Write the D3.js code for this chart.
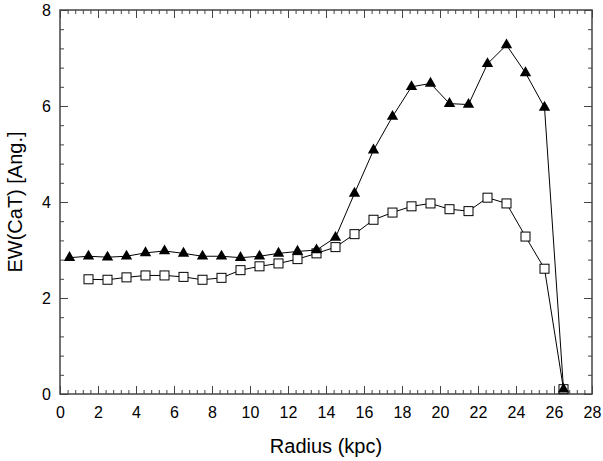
<!DOCTYPE html>
<html>
<head>
<meta charset="utf-8">
<script src="https://cdn.jsdelivr.net/npm/d3@7"></script>
<style>
  body { margin: 0; background: #fff; }
  svg { font-family: "Liberation Sans", Arial, sans-serif; }
</style>
</head>
<body>
<svg id="chart" width="603" height="461"></svg>
<script>
// radius (kpc) of each bin
const radius = [0.5, 1.5, 2.5, 3.5, 4.5, 5.5, 6.5, 7.5, 8.5, 9.5, 10.5, 11.5, 12.5, 13.5,
  14.5, 15.5, 16.5, 17.5, 18.5, 19.5, 20.5, 21.5, 22.5, 23.5, 24.5, 25.5, 26.5];

// filled triangles
const ewTri = [2.84, 2.87, 2.85, 2.87, 2.94, 2.98, 2.93, 2.87, 2.87, 2.84, 2.87, 2.93, 2.97, 3.0,
  3.26, 4.18, 5.08, 5.78, 6.4, 6.47, 6.05, 6.03, 6.88, 7.27, 6.69, 5.97, 0.1];

// open squares (no first bin)
const radiusSq = radius.slice(1);
const ewSq = [2.39, 2.38, 2.43, 2.47, 2.47, 2.44, 2.38, 2.42, 2.58, 2.66, 2.72, 2.81, 2.93,
  3.06, 3.33, 3.63, 3.78, 3.91, 3.97, 3.85, 3.81, 4.09, 3.97, 3.28, 2.61, 0.1];

const xMajor = d3.range(0, 29, 2);
const yMajor = [0, 2, 4, 6, 8];

const svg = d3.select('#chart');
const margin = { left: 60, right: 11, top: 10, bottom: 67 };
const width = +svg.attr('width');
const height = +svg.attr('height');

const x = d3.scaleLinear().domain([0, 28]).range([margin.left, width - margin.right]);
const y = d3.scaleLinear().domain([0, 8]).range([height - margin.bottom, margin.top]);

const axisColor = '#444';
const styleAxis = g => {
  g.select('.domain').remove();
  g.selectAll('line').attr('stroke', axisColor).attr('stroke-width', 1);
  g.selectAll('text').attr('fill', '#000').style('font-size', '16px').style('font-family', '"Liberation Sans", Arial, sans-serif');
};

const xMinor = d3.range(0, 28.01, 0.4);
const yMinor = d3.range(0, 8.01, 0.4);

// minor ticks on all four sides
svg.append('g').attr('transform', `translate(0,${y(0)})`)
  .call(d3.axisBottom(x).tickValues(xMinor).tickSize(-4).tickFormat(''))
  .call(styleAxis);
svg.append('g').attr('transform', `translate(0,${y(8)})`)
  .call(d3.axisTop(x).tickValues(xMinor).tickSize(-4).tickFormat(''))
  .call(styleAxis);
svg.append('g').attr('transform', `translate(${x(0)},0)`)
  .call(d3.axisLeft(y).tickValues(yMinor).tickSize(-4).tickFormat(''))
  .call(styleAxis);
svg.append('g').attr('transform', `translate(${x(28)},0)`)
  .call(d3.axisRight(y).tickValues(yMinor).tickSize(-4).tickFormat(''))
  .call(styleAxis);

// major ticks + labels
svg.append('g').attr('transform', `translate(0,${y(0)})`)
  .call(d3.axisBottom(x).tickValues(xMajor).tickSize(-8).tickPadding(13).tickFormat(d3.format('d')))
  .call(styleAxis);
svg.append('g').attr('transform', `translate(0,${y(8)})`)
  .call(d3.axisTop(x).tickValues(xMajor).tickSize(-8).tickFormat(''))
  .call(styleAxis);
svg.append('g').attr('transform', `translate(${x(0)},0)`)
  .call(d3.axisLeft(y).tickValues(yMajor).tickSize(-8).tickPadding(9).tickFormat(d3.format('d')))
  .call(styleAxis);
svg.append('g').attr('transform', `translate(${x(28)},0)`)
  .call(d3.axisRight(y).tickValues(yMajor).tickSize(-8).tickFormat(''))
  .call(styleAxis);

// frame
svg.append('rect')
  .attr('x', x(0)).attr('y', y(8))
  .attr('width', x(28) - x(0)).attr('height', y(0) - y(8))
  .attr('fill', 'none').attr('stroke', axisColor).attr('stroke-width', 1.5);

const line = d3.line().x(d => x(d[0])).y(d => y(d[1]));

const sqData = radiusSq.map((r, i) => [r, ewSq[i]]);
const triData = radius.map((r, i) => [r, ewTri[i]]);

// squares series
svg.append('path').datum(sqData).attr('d', line)
  .attr('fill', 'none').attr('stroke', '#000').attr('stroke-width', 1);
svg.append('g').selectAll('rect').data(sqData).join('rect')
  .attr('x', d => x(d[0]) - 4.5).attr('y', d => y(d[1]) - 4.5)
  .attr('width', 9).attr('height', 9)
  .attr('fill', '#fff').attr('stroke', '#000').attr('stroke-width', 1);

// triangles series
svg.append('path').datum(triData).attr('d', line)
  .attr('fill', 'none').attr('stroke', '#000').attr('stroke-width', 1);
svg.append('g').selectAll('path').data(triData).join('path')
  .attr('transform', d => `translate(${x(d[0])},${y(d[1])})`)
  .attr('d', d3.symbol(d3.symbolTriangle, 56))
  .attr('fill', '#000');

// axis titles
svg.append('text')
  .attr('x', (x(0) + x(28)) / 2).attr('y', 453)
  .attr('text-anchor', 'middle')
  .style('font-size', '20px')
  .text('Radius (kpc)');

svg.append('text')
  .attr('transform', `translate(22,${(y(0) + y(8)) / 2}) rotate(-90)`)
  .attr('text-anchor', 'middle')
  .style('font-size', '20px')
  .text('EW(CaT) [Ang.]');
</script>
</body>
</html>
